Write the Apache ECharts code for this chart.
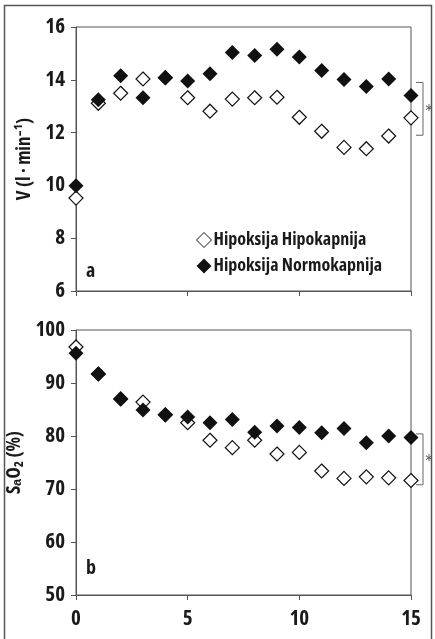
<!DOCTYPE html>
<html>
<head>
<meta charset="utf-8">
<script src="https://cdn.jsdelivr.net/npm/echarts@6/dist/echarts.min.js"></script>
<style>
  html, body { margin: 0; padding: 0; background: #fff; }
  #chart { width: 435px; height: 639px; }
</style>
</head>
<body>
<div id="chart"></div>
<script>
// minute 0..15
const minutes = [0, 1, 2, 3, 4, 5, 6, 7, 8, 9, 10, 11, 12, 13, 14, 15]

// panel a: ventilation
const ventHipokapnija = [9.52, 13.11, 13.49, 14.03, 14.08, 13.32, 12.81, 13.27, 13.32, 13.34, 12.58, 12.05, 11.44, 11.39, 11.87, 12.56]
const ventNormokapnija = [9.99, 13.24, 14.15, 13.32, 14.08, 13.95, 14.23, 15.03, 14.92, 15.16, 14.86, 14.35, 14.01, 13.75, 14.03, 13.41]

// panel b: saturation
const satHipokapnija = [96.8, 91.7, 87.0, 86.4, 84.0, 82.5, 79.2, 77.8, 79.2, 76.6, 76.9, 73.4, 72.0, 72.3, 72.1, 71.6]
const satNormokapnija = [95.6, 91.7, 87.0, 84.9, 84.0, 83.6, 82.5, 83.1, 80.7, 81.9, 81.6, 80.6, 81.4, 78.75, 80.0, 79.7]

// significance brackets [top, bottom] at minute 15
const bracketA = [13.9, 11.9]
const bracketB = [80.4, 70.8]

const seriesNames = ['Hipoksija Hipokapnija', 'Hipoksija Normokapnija']

// condensed face via font-stretch (Open Sans is variable in width)
const FONT = '"Open Sans", Roboto, sans-serif'
const STRETCH = 'condensed'
const AXIS = '#555'
const INK = '#1a1a1a'

const pairs = (ys) => minutes.map((m, i) => [m, ys[i]])

const chart = echarts.init(document.getElementById('chart'), undefined, { renderer: 'canvas' })

const txt = (size, weight) => ({
  color: INK,
  fontFamily: FONT,
  fontStyle: STRETCH,
  fontSize: size,
  fontWeight: weight || 700,
})

const xAxisBase = (gridIndex, showLabel) => ({
  type: 'value',
  gridIndex,
  min: 0,
  max: 15,
  interval: 5,
  axisLine: { lineStyle: { color: AXIS, width: 1 } },
  axisTick: { show: true, length: 5, lineStyle: { color: AXIS } },
  axisLabel: { show: showLabel, margin: 14, ...txt(21) },
  splitLine: { show: false },
})

const yAxisBase = (gridIndex, min, max, interval, name) => ({
  type: 'value',
  gridIndex,
  min,
  max,
  interval,
  name,
  nameLocation: 'middle',
  nameGap: 31,
  nameTextStyle: txt(19),
  axisLine: { show: true, lineStyle: { color: AXIS, width: 1 } },
  axisTick: { show: true, length: 5, lineStyle: { color: AXIS } },
  axisLabel: { margin: 11, ...txt(21) },
  splitLine: { show: false },
})

const openStyle = { color: '#fff', borderColor: '#111', borderWidth: 1.2, opacity: 1 }
const fillStyle = { color: '#111', borderColor: '#111', borderWidth: 0, opacity: 1 }

const scatter = (name, data, xi, yi, style, size) => ({
  name,
  type: 'scatter',
  xAxisIndex: xi,
  yAxisIndex: yi,
  symbol: 'diamond',
  symbolSize: size,
  itemStyle: style,
  emphasis: { disabled: true },
  data,
})

chart.setOption({
  animation: false,
  grid: [
    { left: 76, right: 24, top: 27, height: 264, show: true, borderColor: AXIS, borderWidth: 1, outerBoundsMode: 'none' },
    { left: 76, right: 24, top: 330, height: 265, show: true, borderColor: AXIS, borderWidth: 1, outerBoundsMode: 'none' },
  ],
  legend: {
    data: [
      { name: seriesNames[0], itemStyle: { color: '#fff', borderColor: '#111', borderWidth: 1 } },
      { name: seriesNames[1], itemStyle: { color: '#111', borderWidth: 0 } },
    ],
    orient: 'vertical',
    left: 191,
    top: 226,
    itemWidth: 15,
    itemHeight: 15,
    itemGap: 8,
    icon: 'diamond',
    textStyle: { ...txt(18), padding: [0, 0, 0, -3] },
  },
  xAxis: [xAxisBase(0, false), xAxisBase(1, true)],
  yAxis: [
    yAxisBase(0, 6, 16, 2, 'V (l · min⁻¹)'),
    yAxisBase(1, 50, 100, 10, 'SₐO₂ (%)'),
  ],
  series: [
    scatter(seriesNames[0], pairs(ventHipokapnija), 0, 0, openStyle, 14),
    scatter(seriesNames[1], pairs(ventNormokapnija), 0, 0, fillStyle, 15),
    scatter(seriesNames[0], pairs(satHipokapnija), 1, 1, openStyle, 14),
    scatter(seriesNames[1], pairs(satNormokapnija), 1, 1, fillStyle, 15),
  ],
})

// brackets with asterisk, placed from data values
function bracket(gridIndex, range) {
  const top = chart.convertToPixel({ gridIndex }, [15, range[0]])
  const bot = chart.convertToPixel({ gridIndex }, [15, range[1]])
  const x0 = top[0] + 5
  const x1 = top[0] + 12
  return [
    {
      type: 'polyline',
      shape: { points: [[x0, top[1]], [x1, top[1]], [x1, bot[1]], [x0, bot[1]]] },
      style: { stroke: '#666', lineWidth: 1, fill: null },
    },
    {
      type: 'text',
      x: x1 + 6,
      y: (top[1] + bot[1]) / 2 + 3,
      style: { text: '*', fill: '#555', font: '15px "DejaVu Sans", sans-serif', align: 'center', verticalAlign: 'middle' },
    },
  ]
}

chart.setOption({
  graphic: [
    {
      type: 'rect',
      shape: { x: 4.5, y: 5.5, width: 427, height: 640 },
      style: { stroke: '#555', lineWidth: 1.5, fill: null },
      silent: true,
    },
    {
      type: 'text', left: 86, top: 261,
      style: { text: 'a', fill: INK, font: STRETCH + ' 700 20px ' + FONT },
    },
    {
      type: 'text', left: 86, top: 558,
      style: { text: 'b', fill: INK, font: STRETCH + ' 700 20px ' + FONT },
    },
    ...bracket(0, bracketA),
    ...bracket(1, bracketB),
  ],
})
</script>
</body>
</html>
